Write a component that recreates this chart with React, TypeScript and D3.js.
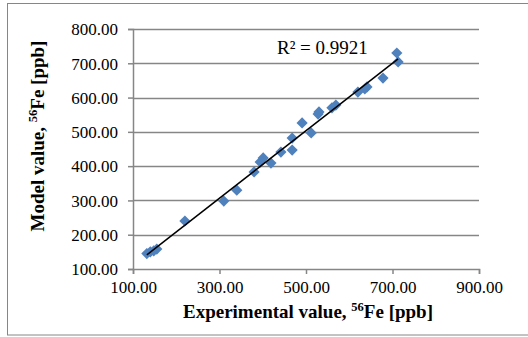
import React, { useEffect, useRef } from "react";
import * as d3 from "d3";

const experimental = [132, 140, 148, 155, 220, 310, 340, 380, 394, 401, 419, 442, 468, 468, 491, 512, 528, 530, 560, 569, 620, 636, 641, 678, 710, 713];
const model = [145, 150, 153, 158, 240, 298, 330, 383, 412, 424, 409, 441, 447, 482, 526, 497, 552, 558, 570, 578, 616, 625, 631, 657, 730, 704];
const xTicks = [100, 300, 500, 700, 900];
const yTicks = [100, 200, 300, 400, 500, 600, 700, 800];
const r2Label = "R² = 0.9921";

export default function App() {
  const ref = useRef<SVGSVGElement>(null);
  useEffect(() => {
    const svg = d3.select(ref.current);
    svg.selectAll("*").remove();
    const W = 528, H = 337;
    const left = 133, right = 479, top = 29, bottom = 269;
    const x = d3.scaleLinear().domain([100, 900]).range([left, right]);
    const y = d3.scaleLinear().domain([100, 800]).range([bottom, top]);
    const font = "'Liberation Serif', 'Times New Roman', serif";
    const grey = "#868686";

    svg.append("rect").attr("x", 0).attr("y", 0).attr("width", W).attr("height", H).attr("fill", "#fff");
    svg.append("rect").attr("x", 7.5).attr("y", 3.5).attr("width", W + 10).attr("height", 331.5)
      .attr("fill", "none").attr("stroke", grey).attr("stroke-width", 1);

    // gridlines
    svg.append("g").selectAll("line").data(yTicks.filter(t => t > 100)).join("line")
      .attr("x1", left).attr("x2", right)
      .attr("y1", d => Math.round(y(d)) + 0.5).attr("y2", d => Math.round(y(d)) + 0.5)
      .attr("stroke", grey).attr("stroke-width", 1.5);

    // axes
    const yAxis = d3.axisLeft(y).tickValues(yTicks).tickSize(5).tickPadding(10).tickFormat(d3.format(".2f"));
    const xAxis = d3.axisBottom(x).tickValues(xTicks).tickSize(5).tickPadding(7).tickFormat(d3.format(".2f"));
    const gy = svg.append("g").attr("transform", `translate(${left},0)`).call(yAxis);
    const gx = svg.append("g").attr("transform", `translate(0,${bottom})`).call(xAxis);
    [gx, gy].forEach(g => {
      g.select(".domain").attr("stroke", grey).attr("stroke-width", 1.5);
      g.selectAll(".tick line").attr("stroke", grey).attr("stroke-width", 1.5);
      g.selectAll("text").attr("font-family", font).attr("font-size", 17).attr("fill", "#000");
    });
    gy.selectAll("text").attr("dy", "0.34em");

    // trendline (least squares)
    const n = experimental.length;
    const mx = d3.mean(experimental)!, my = d3.mean(model)!;
    let sxy = 0, sxx = 0;
    for (let i = 0; i < n; i++) {
      sxy += (experimental[i] - mx) * (model[i] - my);
      sxx += (experimental[i] - mx) ** 2;
    }
    const slope = sxy / sxx, icpt = my - slope * mx;
    const [x0, x1] = d3.extent(experimental) as [number, number];

    const pts = experimental.map((e, i) => [e, model[i]]);
    svg.append("g").selectAll("path").data(pts).join("path")
      .attr("transform", d => `translate(${x(d[0])},${y(d[1])})`)
      .attr("d", d3.symbol(d3.symbolDiamond2, 80)() as string)
      .attr("fill", "#4F81BD");

    svg.append("line")
      .attr("x1", x(x0)).attr("y1", y(slope * x0 + icpt))
      .attr("x2", x(x1)).attr("y2", y(slope * x1 + icpt))
      .attr("stroke", "#000").attr("stroke-width", 1.5);

    svg.append("text").attr("x", 277).attr("y", 54).text(r2Label)
      .attr("font-family", font).attr("font-size", 19).attr("fill", "#000");

    svg.append("text").attr("x", 308).attr("y", 318).attr("text-anchor", "middle")
      .attr("font-family", font).attr("font-size", 19).attr("font-weight", "bold")
      .call(t => {
        t.append("tspan").text("Experimental value, ");
        t.append("tspan").text("56").attr("font-size", 12.5).attr("dy", -7);
        t.append("tspan").text("Fe [ppb]").attr("dy", 7);
      });

    svg.append("text").attr("transform", `translate(44,136) rotate(-90)`).attr("text-anchor", "middle")
      .attr("font-family", font).attr("font-size", 19).attr("font-weight", "bold")
      .call(t => {
        t.append("tspan").text("Model value, ");
        t.append("tspan").text("56").attr("font-size", 12.5).attr("dy", -7);
        t.append("tspan").text("Fe [ppb]").attr("dy", 7);
      });
  }, []);
  return (
    <svg ref={ref} width={528} height={337} style={{ position: "absolute", left: 0, top: 0, display: "block" }} />
  );
}
